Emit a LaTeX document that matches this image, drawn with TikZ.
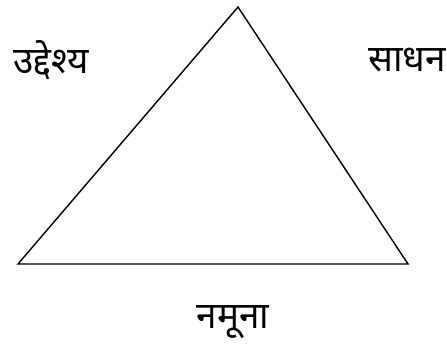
\documentclass[tikz,border=0pt]{standalone}
\usepackage{fontspec}
\newfontfamily\devfont[Script=Devanagari]{Noto Sans}
\begin{document}
\begin{tikzpicture}[
        lbl/.style={font=\devfont\fontsize{10.5}{12}\selectfont, inner sep=0pt},
    ]
        \useasboundingbox (0, 0) rectangle (4.47, 3.46);
        % Corners
        \coordinate (apex) at (2.38, 3.39);
        \coordinate (left) at (0.18, 0.82);
        \coordinate (right) at (4.08, 0.82);
        \draw[thin] (apex) -- (left) -- (right) -- cycle;

        % Labels
        \node[lbl] (goal) at (0.51, 2.86) {उद्देश्य};
        \node[lbl] (means) at (4.07, 2.86) {साधन};
        \node[lbl] (model) at (2.33, 0.24) {नमूना};
    \end{tikzpicture}
\end{document}
